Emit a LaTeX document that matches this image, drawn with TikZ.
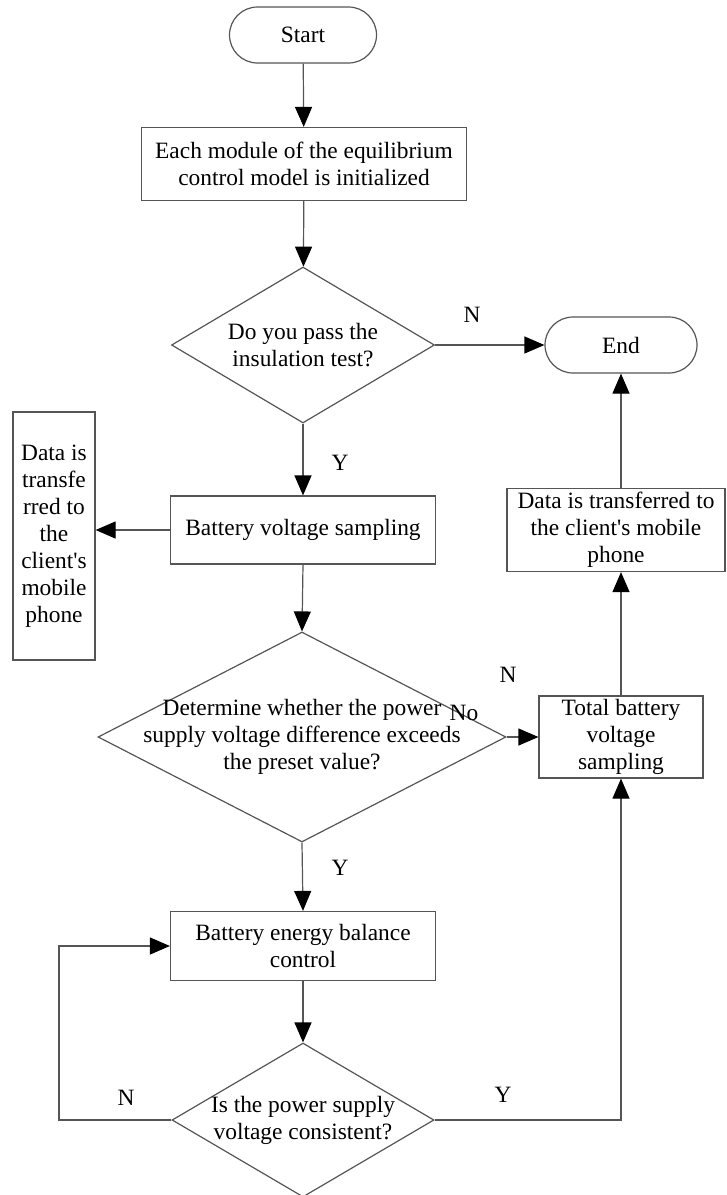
\documentclass[tikz,border=0pt]{standalone}
\usepackage{fontspec}
\setmainfont{Liberation Serif}[Ligatures=TeXOff]
\usetikzlibrary{shapes.geometric, shapes.misc, arrows.meta, positioning}
\usepackage{xcolor}
\definecolor{flowgray}{RGB}{85,85,85}

\begin{document}
\begin{tikzpicture}[x=0.5pt, y=-0.5pt,
    every node/.style={font=\fontsize{11.7}{13.5}\selectfont},
    termnode/.style={rounded rectangle, draw=flowgray, line width=0.6pt,
      minimum width=#1, minimum height=28pt, inner sep=0pt},
    procbox/.style 2 args={rectangle, draw=flowgray, line width=0.6pt, align=center,
      minimum width=#1, minimum height=#2, inner sep=0pt},
    decision/.style 2 args={diamond, draw=flowgray, line width=0.6pt,
      minimum width=#1, minimum height=#2, inner sep=0pt},
    flow/.style={draw=flowgray, line width=0.6pt,
      -{Triangle[length=10pt, width=8.5pt, color=black]}},
  ]
  \useasboundingbox (0,0) rectangle (727,1195);

  % Main column
  \node[termnode=73.5pt] (start) at (303,35) {Start};
  \node[procbox={162.5pt}{36.5pt}] (init) at (304,164)
    {Each module of the equilibrium\\control model is initialized};
  \node[decision={131.5pt}{78pt},
    label={[align=center]center:Do you pass the\\insulation test?}] (insul) at (303,345) {};
  \node[procbox={132.5pt}{34pt}] (sample) at (303,530) {Battery voltage sampling};
  \node[decision={204pt}{105pt},
    label={[align=center]center:Determine whether the power\\supply voltage difference exceeds\\the preset value?}] (diffchk) at (302,737) {};
  \node[procbox={132.5pt}{34.5pt}] (balance) at (303,946)
    {Battery energy balance\\control};
  \node[decision={131pt}{77pt},
    label={[align=center]center:Is the power supply\\voltage consistent?}] (consist) at (303,1120) {};

  % Side boxes
  \node[procbox={41pt}{124pt}] (phoneL) at (54,536)
    {Data is\\transfe\\rred to\\the\\client's\\mobile\\phone};
  \node[termnode=76pt] (finish) at (621,345) {End};
  \node[procbox={109pt}{41.5pt}] (phoneR) at (616,530)
    {Data is transferred to\\the client's mobile\\phone};
  \node[procbox={82pt}{41pt}] (total) at (621,737)
    {Total battery\\voltage\\sampling};

  % Connectors
  \draw[flow] (start) -- (init);
  \draw[flow] (init) -- (insul);
  \draw[flow] (insul.east) -- (finish.west);
  \draw[flow] (insul.south) -- (sample.north);
  \draw[flow] (sample.west) -- (sample.west -| phoneL.east);
  \draw[flow] (sample.south) -- (diffchk.north);
  \draw[flow] (diffchk.east) -- (total.west);
  \draw[flow] (total.north) -- (total.north |- phoneR.south);
  \draw[flow] (finish.south |- phoneR.north) -- (finish.south);
  \draw[flow] (diffchk.south) -- (balance.north);
  \draw[flow] (balance.south) -- (consist.north);
  \coordinate (loopL) at (59,1120);
  \draw[flow] (consist.west) -- (loopL) |- (balance.west);
  \draw[flow] (consist.east) -| (total.south);

  % Branch labels
  \node (insulN) at (472,315) {N};
  \node (insulY) at (340,463) {Y};
  \node (diffN) at (508,675) {N};
  \node (diffNo) at (464,713) {No};
  \node (diffY) at (340,868) {Y};
  \node (consistN) at (126,1098) {N};
  \node (consistY) at (503,1095) {Y};
\end{tikzpicture}
\end{document}
